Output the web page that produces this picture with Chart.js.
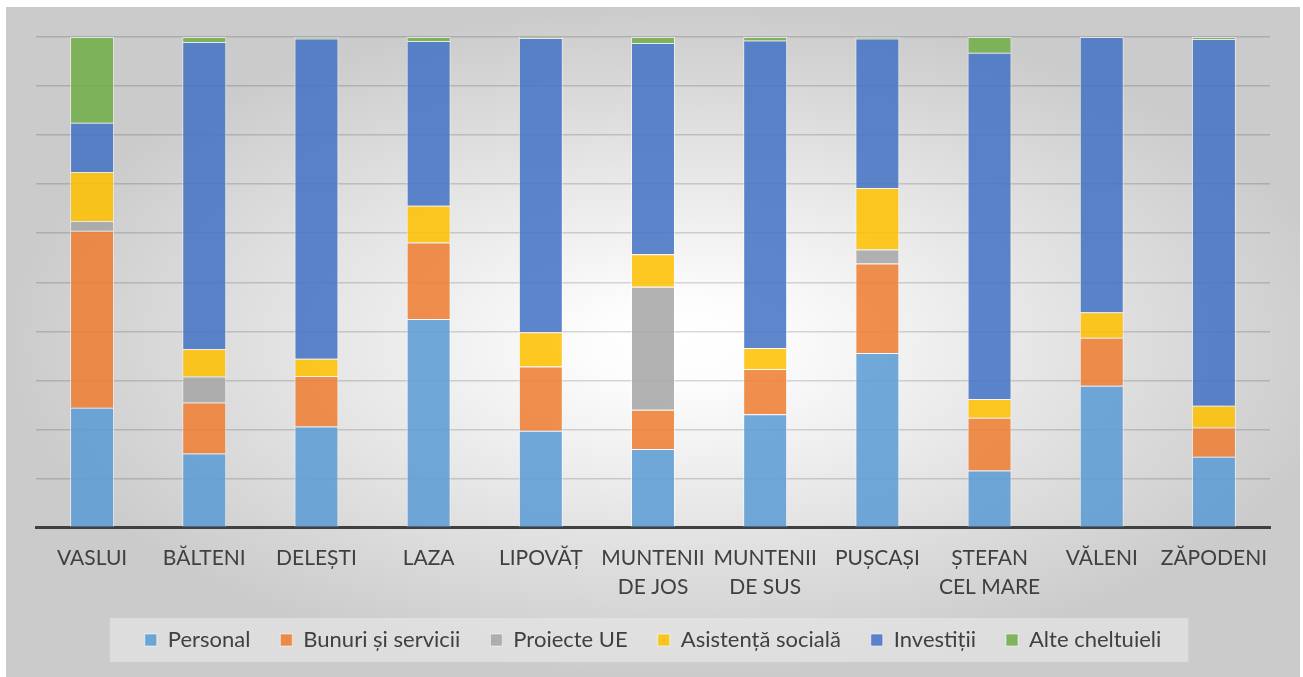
<!DOCTYPE html>
<html lang="ro">
<head>
<meta charset="utf-8">
<title>Structura cheltuielilor</title>
<script src="https://cdn.jsdelivr.net/npm/chart.js@4/dist/chart.umd.min.js"></script>
<style>
  html, body { margin: 0; padding: 0; background: #ffffff; }
  body { width: 1303px; height: 677px; overflow: hidden; position: relative; }
  #frame {
    position: absolute; left: 6px; top: 7px; width: 1294px; height: 670px;
    background: radial-gradient(ellipse farthest-side at 52% 50%, #ffffff 0%, #fdfdfd 12%, #cbcbcb 100%);
  }
  #frame canvas { display: block; }
</style>
</head>
<body>
<div id="frame"><canvas id="chart" width="1294" height="670"></canvas></div>
<script>
// Localități (categorii pe axa X)
const categories = [
  'VASLUI', 'BĂLTENI', 'DELEȘTI', 'LAZA', 'LIPOVĂȚ',
  ['MUNTENII', 'DE JOS'], ['MUNTENII', 'DE SUS'], 'PUȘCAȘI',
  ['ȘTEFAN', 'CEL MARE'], 'VĂLENI', 'ZĂPODENI'
];

// Ponderea fiecărui capitol în totalul cheltuielilor (%)
const personal   = [24.4, 15.1, 20.6, 42.5, 19.7, 16.0, 23.1, 35.6, 11.6, 28.9, 14.4];
const bunuri     = [36.1, 10.4, 10.3, 15.6, 13.1,  8.0,  9.2, 18.2, 10.8,  9.8,  6.0];
const proiecteUE = [ 2.0,  5.3,  0.0,  0.0,  0.0, 25.1,  0.0,  2.9,  0.0,  0.0,  0.0];
const asistenta  = [10.0,  5.6,  3.5,  7.5,  7.0,  6.6,  4.3, 12.5,  3.8,  5.2,  4.4];
const investitii = [10.0, 62.6, 65.3, 33.6, 60.0, 43.1, 62.7, 30.5, 70.6, 56.1, 74.8];
const alte       = [17.5,  1.0,  0.3,  0.8,  0.2,  1.2,  0.7,  0.3,  3.2,  0.0,  0.4];

const seriesNames = ['Personal', 'Bunuri și servicii', 'Proiecte UE', 'Asistență socială', 'Investiții', 'Alte cheltuieli'];
const seriesData  = [personal, bunuri, proiecteUE, asistenta, investitii, alte];
const seriesColors = [
  'rgba(91,155,213,0.86)',
  'rgba(237,125,49,0.86)',
  'rgba(165,165,165,0.86)',
  'rgba(255,192,0,0.86)',
  'rgba(68,114,196,0.86)',
  'rgba(112,173,71,0.86)'
];

const TEXT = '#404040';

// Fundal discret în spatele legendei
const legendPanel = {
  id: 'legendPanel',
  beforeDraw(chart) {
    const lg = chart.legend;
    if (!lg || !lg.legendHitBoxes || !lg.legendHitBoxes.length) return;
    const boxes = lg.legendHitBoxes;
    const first = boxes[0], last = boxes[boxes.length - 1];
    const cy = first.top + first.height / 2;
    const ctx = chart.ctx;
    ctx.save();
    ctx.fillStyle = 'rgba(232,232,232,0.62)';
    ctx.fillRect(first.left - 35, cy - 22, (last.left + last.width + 27) - (first.left - 35), 44);
    ctx.restore();
  }
};

function draw() {
  Chart.defaults.font.family = 'Lato, "Open Sans", sans-serif';
  Chart.defaults.color = TEXT;

  new Chart(document.getElementById('chart'), {
    type: 'bar',
    data: {
      labels: categories,
      datasets: seriesNames.map((name, i) => ({
        label: name,
        data: seriesData[i],
        backgroundColor: seriesColors[i],
        borderColor: 'rgba(255,255,255,0.55)',
        borderWidth: 1,
        barPercentage: 0.392,
        categoryPercentage: 1.0
      }))
    },
    options: {
      responsive: false,
      animation: false,
      layout: { padding: { top: 30, left: 30, right: 30, bottom: 16 } },
      plugins: {
        legend: {
          position: 'bottom',
          labels: {
            boxWidth: 12,
            boxHeight: 12,
            padding: 30,
            color: TEXT,
            font: { size: 22 }
          }
        },
        tooltip: { enabled: false }
      },
      scales: {
        x: {
          stacked: true,
          grid: { display: false, drawTicks: false },
          border: { display: true, color: '#404040', width: 3 },
          ticks: {
            color: TEXT,
            padding: 16,
            maxRotation: 0,
            autoSkip: false,
            font: { size: 21, lineHeight: 1.38 }
          },
          afterFit(scale) { scale.height = 71.5; }
        },
        y: {
          stacked: true,
          min: 0,
          max: 100,
          ticks: { display: false, stepSize: 10 },
          grid: { color: 'rgba(0,0,0,0.15)', lineWidth: 1.5, drawTicks: false },
          border: { display: false },
          afterFit(scale) { scale.width = 0; }
        }
      }
    },
    plugins: [legendPanel]
  });
}

if (document.fonts && document.fonts.load) {
  document.fonts.load('22px Lato').then(draw, draw);
} else {
  draw();
}
</script>
</body>
</html>
